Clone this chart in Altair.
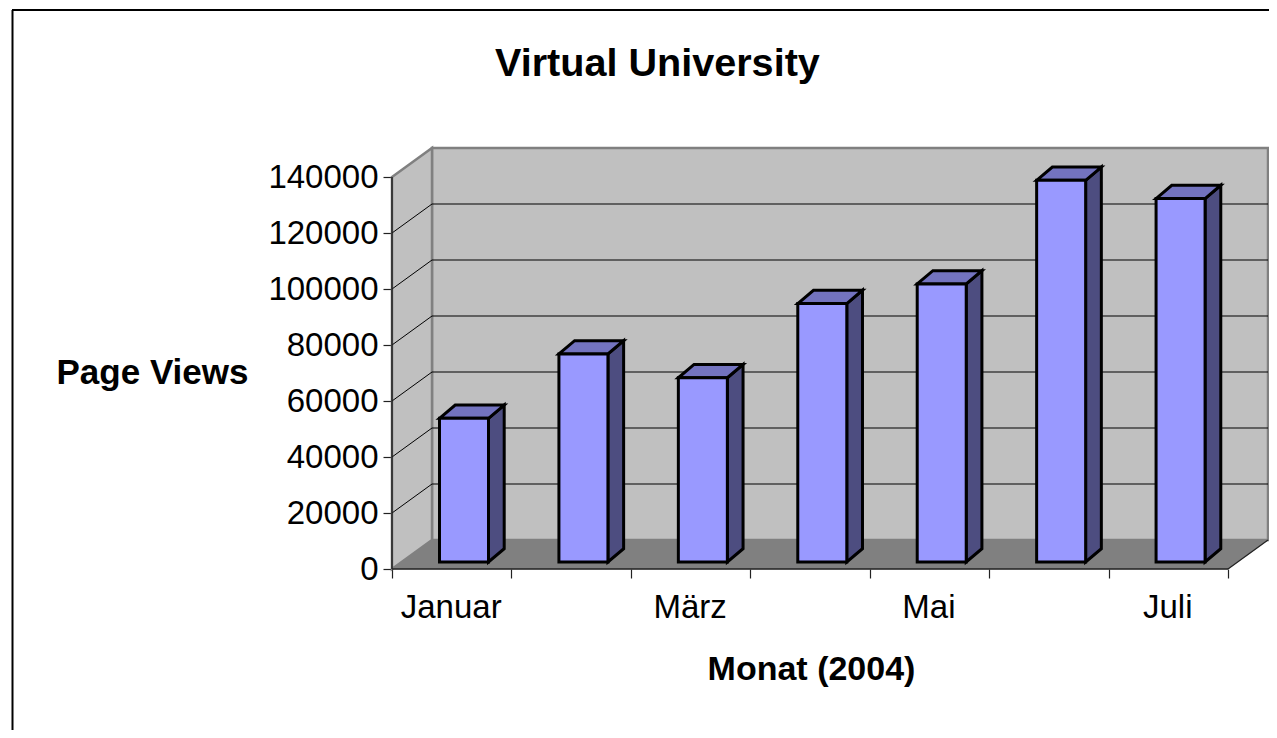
import altair as alt
import pandas as pd

TITLE = "Virtual University"
X_TITLE = "Monat (2004)"
Y_TITLE = "Page Views"
MONTHS = ["Januar", "", "März", "", "Mai", "", "Juli"]
VALUES = [51300, 74300, 65800, 92300, 99300, 136300, 129800]
Y_TICKS = [0, 20000, 40000, 60000, 80000, 100000, 120000, 140000]

FONT = "Liberation Sans"
PX_X = 836 / 7          # pixels per category
PX_Y = 0.0028           # pixels per unit
WALL_DX = 40 / PX_X     # depth of the walls in data units
WALL_DY = 29 / PX_Y
BAR_DX = 15.7 / PX_X
BAR_DY = 13.3 / PX_Y
BAR_X0 = 47.5 / PX_X
BAR_W = 49 / PX_X
BAR_BASE = 7 / PX_Y
N = len(VALUES)
YMAX = 140000

x_dom = [0, N + WALL_DX]
y_dom = [0, YMAX + WALL_DY]
W = 876
H = int(round(y_dom[1] * PX_Y))

xs = alt.Scale(domain=x_dom, nice=False, zero=False)
ys = alt.Scale(domain=y_dom, nice=False, zero=False)

x_axis = alt.Axis(
    values=[i / 2 for i in range(2 * N + 1)],
    domain=False, grid=False, title=X_TITLE,
    labelExpr="datum.value % 1 == 0 ? '' : " + str(MONTHS) + "[floor(datum.value)]",
    labelOverlap=False, labelFont=FONT, labelFontSize=33, labelColor="#000",
    labelPadding=13, labelOffset=-1, tickSize=9, tickColor="#222", tickWidth=1.2,
    tickOpacity={"condition": {"test": "datum.value % 1 == 0", "value": 1}, "value": 0},
    titleFont=FONT, titleFontSize=34, titleFontWeight="bold", titleColor="#000",
    titleX=419, titleY=110, titleAlign="center", titleBaseline="alphabetic",
)
y_axis = alt.Axis(
    values=Y_TICKS, format="d", domain=False, grid=False, title=Y_TITLE,
    labelFont=FONT, labelFontSize=33, labelColor="#000", labelPadding=5,
    tickSize=9, tickColor="#222", tickWidth=1.2,
    titleFont=FONT, titleFontSize=35, titleFontWeight="bold", titleColor="#000",
    titleAngle=0, titleX=-240, titleY=235.5, titleAlign="center", titleBaseline="alphabetic",
)


def X(f="x"):
    return alt.X(f + ":Q", scale=xs, axis=x_axis)


def Y(f="y"):
    return alt.Y(f + ":Q", scale=ys, axis=y_axis, stack=None)


def area_layer(rows, fill, stroke, sw):
    return alt.Chart(pd.DataFrame(rows)).mark_area(
        fill=fill, stroke=stroke, strokeWidth=sw, strokeJoin="miter", opacity=1, interpolate="linear"
    ).encode(x=X(), y=Y(), y2="y2:Q", detail="g:N")


def poly(g, pts):
    return [dict(g=g, x=p[0], y=p[1], y2=p[2]) for p in pts]


one = pd.DataFrame({"a": [0]})

# back wall
wall = alt.Chart(pd.DataFrame({"x": [WALL_DX], "x2": [x_dom[1]], "y": [WALL_DY], "y2": [y_dom[1]]})).mark_rect(
    fill="#C0C0C0", stroke="#808080", strokeWidth=2.5
).encode(x=X(), x2="x2:Q", y=Y(), y2="y2:Q")

left_wall = area_layer(
    poly("left", [(0, YMAX, 0), (WALL_DX, YMAX + WALL_DY, WALL_DY)]), "#C0C0C0", "#808080", 2.5
)
floor = area_layer(
    poly("floor", [(0, 0, 0), (WALL_DX, WALL_DY, 0), (N, WALL_DY, 0), (N + WALL_DX, WALL_DY, WALL_DY)]),
    "#808080", "#808080", 0.5,
)

grid_vals = [v for v in Y_TICKS if 0 < v < YMAX]
grid = alt.Chart(pd.DataFrame({
    "x": [WALL_DX] * len(grid_vals), "x2": [x_dom[1]] * len(grid_vals),
    "y": [v + WALL_DY for v in grid_vals],
})).mark_rule(color="#000", strokeWidth=1.2).encode(x=X(), x2="x2:Q", y=Y())

diag_rows = []
for v in grid_vals:
    diag_rows += [dict(g=v, x=0, y=v), dict(g=v, x=WALL_DX, y=v + WALL_DY)]
diag = alt.Chart(pd.DataFrame(diag_rows)).mark_line(color="#000", strokeWidth=1).encode(
    x=X(), y=Y(), detail="g:N"
)

y_line = alt.Chart(pd.DataFrame({"x": [0], "y": [0], "y2": [YMAX]})).mark_rule(color="#222", strokeWidth=1.5).encode(
    x=X(), y=Y(), y2="y2:Q"
)
x_line = alt.Chart(pd.DataFrame({"x": [0], "x2": [N], "y": [0]})).mark_rule(color="#222", strokeWidth=1.5).encode(
    x=X(), x2="x2:Q", y=Y()
)
r_diag = alt.Chart(pd.DataFrame({"g": [0, 0], "x": [N, N + WALL_DX], "y": [0, WALL_DY]})).mark_line(
    color="#222", strokeWidth=1.2
).encode(x=X(), y=Y(), detail="g:N")

side_rows, top_rows, front_rows = [], [], []
for i, v in enumerate(VALUES):
    x0 = i + BAR_X0
    x1 = x0 + BAR_W
    base = BAR_BASE
    top = BAR_BASE + v
    front_rows.append(dict(x=x0, x2=x1, y=base, y2=top))
    side_rows += poly(i, [(x1, top, base), (x1 + BAR_DX, top + BAR_DY, base + BAR_DY)])
    top_rows += poly(i, [
        (x0, top, top),
        (x0 + BAR_DX, top + BAR_DY, top),
        (x1, top + BAR_DY, top),
        (x1 + BAR_DX, top + BAR_DY, top + BAR_DY),
    ])

sides = area_layer(side_rows, "#4D4D80", "#000", 3)
tops = area_layer(top_rows, "#7373BF", "#000", 3)
fronts = alt.Chart(pd.DataFrame(front_rows)).mark_rect(
    fill="#9999FF", stroke="#000", strokeWidth=3
).encode(x=X(), x2="x2:Q", y=Y(), y2="y2:Q")

border_left = alt.Chart(one).mark_rule(color="#000", strokeWidth=2).encode(
    x=alt.value(-379.5), y=alt.value(-138), y2=alt.value(590)
)
border_top = alt.Chart(one).mark_rule(color="#000", strokeWidth=2).encode(
    x=alt.value(-380), x2=alt.value(885), y=alt.value(-138)
)

chart = alt.layer(
    wall, left_wall, floor, grid, diag, y_line, x_line, r_diag, sides, tops, fronts, border_left, border_top
).properties(
    width=W, height=H,
    padding={"left": 384, "top": 140, "right": 1, "bottom": 722 - 140 - H},
    autosize=alt.AutoSizeParams(type="none"),
    background="#FFFFFF",
    title=alt.TitleParams(
        TITLE, font=FONT, fontSize=39.6, fontWeight="bold", color="#000",
        anchor="start", frame="group", dx=103, offset=-107, baseline="alphabetic",
    ),
).configure_view(stroke=None)

chart.save("out.html", embed_options={"renderer": "svg", "actions": False})
